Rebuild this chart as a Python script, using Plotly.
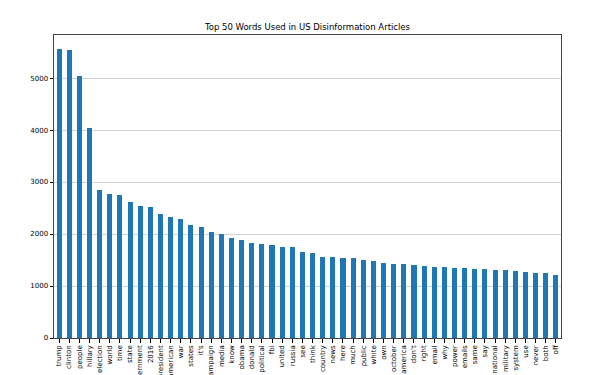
import plotly.graph_objects as go

words = ["trump", "clinton", "people", "hillary", "election", "world", "time", "state",
         "government", "2016", "president", "american", "war", "states", "it's", "campaign",
         "media", "know", "obama", "donald", "political", "fbi", "united", "russia", "see",
         "think", "country", "news", "here", "much", "public", "white", "own", "october",
         "america", "don't", "right", "email", "why", "power", "emails", "same", "say",
         "national", "military", "system", "use", "never", "both", "off"]
counts = [5551, 5532, 5033, 4035, 2839, 2762, 2756, 2622, 2532, 2519, 2385, 2321, 2295,
          2168, 2135, 2038, 2001, 1918, 1880, 1822, 1803, 1796, 1745, 1745, 1649, 1636,
          1566, 1553, 1547, 1540, 1508, 1483, 1445, 1432, 1420, 1400, 1394, 1368, 1362,
          1349, 1343, 1330, 1324, 1317, 1304, 1298, 1272, 1253, 1247, 1221]
yticks = [0, 1000, 2000, 3000, 4000, 5000]
title = "Top 50 Words Used in US Disinformation Articles"

# page body has an 8px default margin; compensate so the plot lands where the reference has it
W, H = 590, 367
L, R, T, B = 46, 37, 27, 37
x = list(range(len(words)))
ymax = max(counts) * 1.05

fig = go.Figure(go.Bar(x=x, y=counts, width=0.5, marker=dict(color="#1f77b4", line=dict(width=0))))
fig.update_layout(
    width=W, height=H,
    margin=dict(l=L, r=R, t=T, b=B, autoexpand=False),
    paper_bgcolor="white", plot_bgcolor="white",
    font=dict(family="DejaVu Sans", size=7, color="black"),
    title=dict(text=title, x=(L + (W - R)) / 2 / W, xanchor="center",
               y=1 - 19.3 / H, yanchor="middle", font=dict(size=8.5, color="black")),
    showlegend=False,
    bargap=0,
)
fig.update_xaxes(range=[-0.5, len(words) - 0.5], tickmode="array", tickvals=x, ticktext=words,
                 tickangle=-90, ticks="outside", ticklen=3.5, tickwidth=0.8, tickcolor="black",
                 showline=True, linecolor="#444444", linewidth=1, mirror=True,
                 showgrid=False, zeroline=False, automargin=False)
fig.update_yaxes(range=[0, ymax], tickmode="array", tickvals=yticks,
                 ticktext=[str(v) for v in yticks],
                 ticks="outside", ticklen=3.5, tickwidth=0.8, tickcolor="black",
                 showline=True, linecolor="#444444", linewidth=1, mirror=True,
                 showgrid=True, gridcolor="#d3d3d3", gridwidth=1,
                 zeroline=False, automargin=False)
fig.write_html("out.html")
